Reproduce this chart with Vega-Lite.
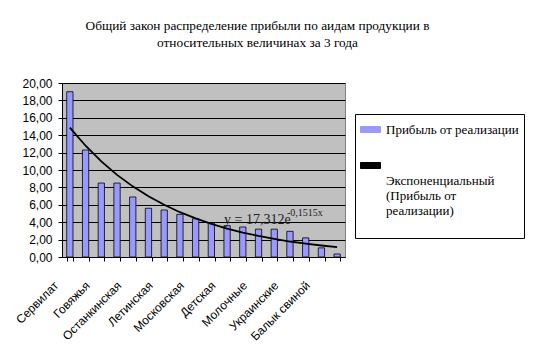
{
  "$schema": "https://vega.github.io/schema/vega-lite/v6.json",
  "width": 283,
  "height": 174,
  "autosize": {"type": "none"},
  "padding": {"left": 62, "top": 83, "right": 194, "bottom": 101},
  "background": "white",
  "title": {
    "text": ["Общий закон распределение прибыли по аидам продукции в", "относительных величинах за 3 года"],
    "font": "Liberation Serif",
    "fontSize": 13.3,
    "fontWeight": "normal",
    "lineHeight": 17,
    "color": "black",
    "anchor": "middle",
    "frame": "group",
    "dx": 54,
    "offset": 28
  },
  "datasets": {
    "t": [
      {"n": 1, "label": "Сервилат", "value": 19.0, "trend": 14.88},
      {"n": 2, "label": "", "value": 12.3, "trend": 12.79},
      {"n": 3, "label": "Говяжья", "value": 8.5, "trend": 10.99},
      {"n": 4, "label": "", "value": 8.5, "trend": 9.44},
      {"n": 5, "label": "Останкинская", "value": 6.9, "trend": 8.12},
      {"n": 6, "label": "", "value": 5.6, "trend": 6.98},
      {"n": 7, "label": "Летинская", "value": 5.4, "trend": 6.0},
      {"n": 8, "label": "", "value": 4.9, "trend": 5.15},
      {"n": 9, "label": "Московская", "value": 4.4, "trend": 4.43},
      {"n": 10, "label": "", "value": 3.9, "trend": 3.81},
      {"n": 11, "label": "Детская", "value": 3.6, "trend": 3.27},
      {"n": 12, "label": "", "value": 3.45, "trend": 2.81},
      {"n": 13, "label": "Молочные", "value": 3.2, "trend": 2.42},
      {"n": 14, "label": "", "value": 3.2, "trend": 2.08},
      {"n": 15, "label": "Украинские", "value": 2.95, "trend": 1.78},
      {"n": 16, "label": "", "value": 2.2, "trend": 1.53},
      {"n": 17, "label": "Балык свиной", "value": 1.05, "trend": 1.32},
      {"n": 18, "label": "", "value": 0.35, "trend": 1.13}
    ]
  },
  "data": {"name": "t"},
  "layer": [
    {
      "mark": {"type": "bar", "stroke": "black", "strokeWidth": 0.8},
      "encoding": {
        "x": {
          "field": "n",
          "type": "ordinal",
          "title": null,
          "scale": {"paddingInner": 0.6, "paddingOuter": 0.3},
          "axis": {
            "labelExpr": "length(data('t')) >= datum.value ? data('t')[datum.value - 1].label : ''",
            "labelAngle": -45,
            "labelAlign": "right",
            "labelBaseline": "middle",
            "labelFont": "Liberation Sans",
            "labelFontSize": 12,
            "labelColor": "black",
            "labelPadding": 22,
            "labelOffset": -14,
            "labelOverlap": false,
            "labelBound": false,
            "tickBand": "extent",
            "tickSize": 4,
            "tickColor": "black",
            "domainColor": "black",
            "grid": false
          }
        },
        "y": {
          "field": "value",
          "type": "quantitative",
          "title": null,
          "scale": {"domain": [0, 20], "nice": false},
          "axis": {
            "values": [0, 2, 4, 6, 8, 10, 12, 14, 16, 18, 20],
            "labelExpr": "replace(format(datum.value, '.2f'), '.', ',')",
            "labelOverlap": false,
            "labelFont": "Liberation Sans",
            "labelFontSize": 12,
            "labelColor": "black",
            "labelPadding": 6,
            "tickSize": 4,
            "tickColor": "black",
            "domainColor": "black",
            "grid": true,
            "gridColor": "black",
            "gridWidth": 1,
            "gridOpacity": 1
          }
        },
        "color": {
          "datum": "Прибыль от реализации",
          "scale": {
            "domain": ["Прибыль от реализации", "Экспоненциальный (Прибыль от реализации)"],
            "range": ["#9999ff", "black"]
          },
          "legend": {
            "title": null,
            "orient": "none",
            "legendX": 293,
            "legendY": 31,
            "direction": "vertical",
            "strokeColor": "black",
            "fillColor": "white",
            "padding": 5,
            "rowPadding": 18,
            "symbolType": "M-1,-0.3H1V0.3H-1Z",
            "symbolSize": 400,
            "symbolStrokeColor": "black",
            "symbolStrokeWidth": 1,
            "symbolOpacity": 1,
            "labelFont": "Liberation Serif",
            "labelFontSize": 13,
            "labelColor": "black",
            "labelLimit": 300,
            "labelOffset": 5,
            "labelBaseline": "middle",
            "labelExpr": "datum.value == 'Прибыль от реализации' ? datum.value : ['', '', 'Экспоненциальный', '(Прибыль от', 'реализации)']"
          }
        }
      }
    },
    {
      "mark": {"type": "line", "strokeWidth": 1.8},
      "encoding": {
        "x": {"field": "n", "type": "ordinal"},
        "y": {
          "field": "trend",
          "type": "quantitative",
          "axis": {
            "values": [0, 2, 4, 6, 8, 10, 12, 14, 16, 18, 20],
            "labelExpr": "replace(format(datum.value, '.2f'), '.', ',')",
            "labelOverlap": false,
            "grid": true
          }
        },
        "color": {"datum": "Экспоненциальный (Прибыль от реализации)", "legend": null}
      }
    },
    {
      "data": {"values": [{"eq": "y = 17,312e", "sup": "-0,1515x"}]},
      "mark": {"type": "text", "font": "Liberation Serif", "fontSize": 14, "align": "left", "baseline": "middle", "color": "#222222", "dx": -3},
      "encoding": {
        "x": {"datum": 11, "type": "ordinal"},
        "y": {
          "datum": 4.2,
          "type": "quantitative",
          "axis": {
            "values": [0, 2, 4, 6, 8, 10, 12, 14, 16, 18, 20],
            "labelExpr": "replace(format(datum.value, '.2f'), '.', ',')",
            "labelOverlap": false,
            "grid": true
          }
        },
        "text": {"field": "eq"}
      }
    },
    {
      "data": {"values": [{"eq": "y = 17,312e", "sup": "-0,1515x"}]},
      "mark": {"type": "text", "font": "Liberation Serif", "fontSize": 10, "align": "left", "baseline": "middle", "color": "#222222", "dx": -3},
      "encoding": {
        "x": {"datum": 15, "type": "ordinal"},
        "y": {
          "datum": 5.1,
          "type": "quantitative",
          "axis": {
            "values": [0, 2, 4, 6, 8, 10, 12, 14, 16, 18, 20],
            "labelExpr": "replace(format(datum.value, '.2f'), '.', ',')",
            "labelOverlap": false,
            "grid": true
          }
        },
        "text": {"field": "sup"}
      }
    }
  ],
  "config": {
    "view": {"stroke": "#808080", "fill": "#c0c0c0"},
    "axis": {"domainWidth": 1, "tickWidth": 1}
  }
}
